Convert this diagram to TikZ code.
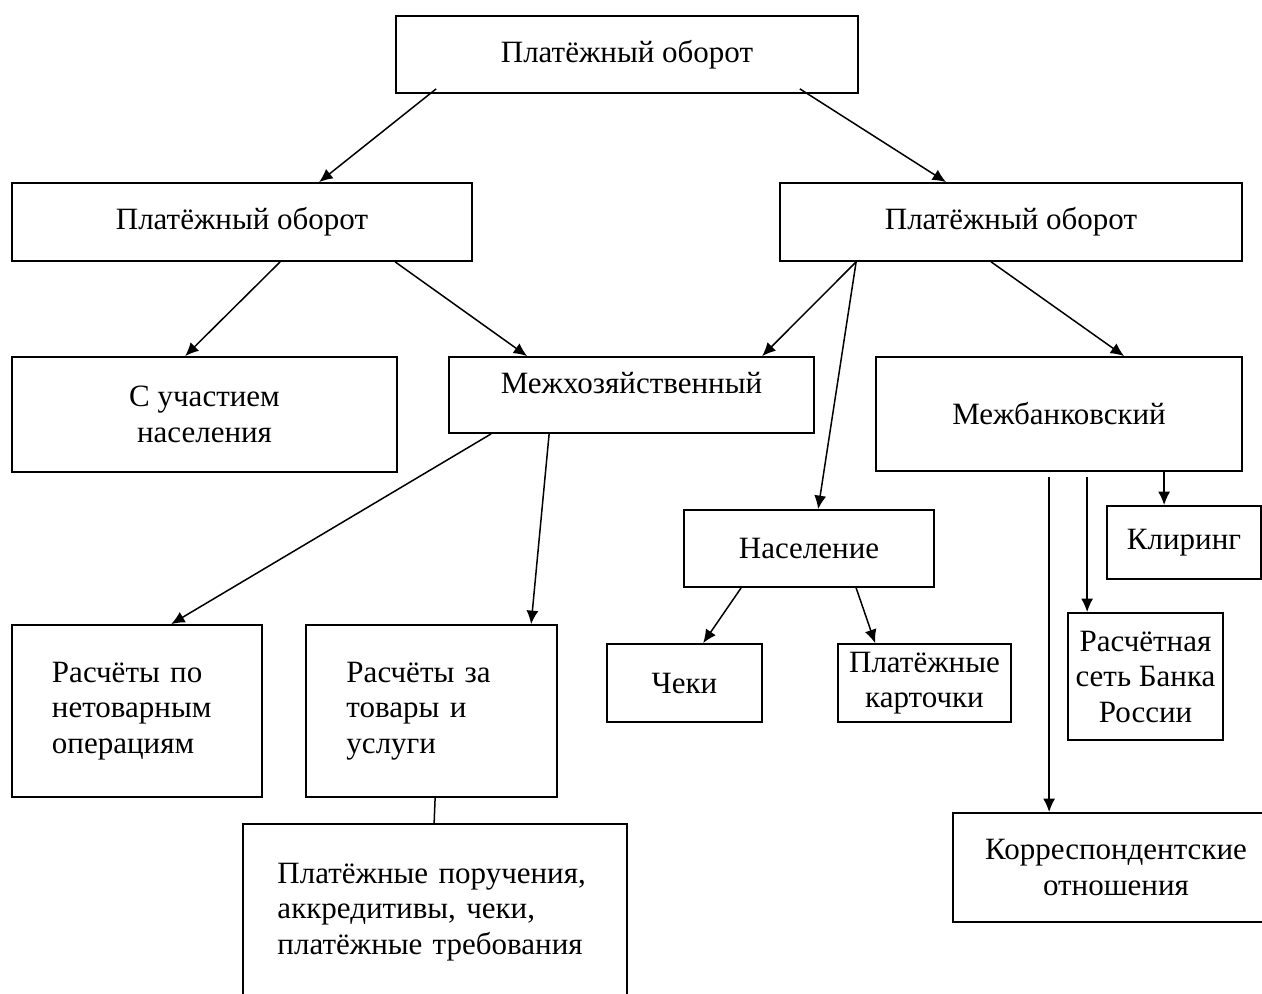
\documentclass[tikz,border=0pt]{standalone}
\usepackage{fontspec}
\setmainfont{Liberation Serif}
\usepackage{tikz}
\usetikzlibrary{calc,arrows.meta}

\begin{document}
\begin{tikzpicture}[x=0.4pt, y=-0.4pt,
  blk/.style 2 args={draw, line width=0.7pt, inner sep=0pt, align=center,
    minimum width=#1*0.4pt, minimum height=#2*0.4pt, font=\fontsize{12.4}{14.2}\selectfont},
  arr/.style={line width=0.6pt, -{Latex[length=5.4pt,width=4.8pt]}}]
  \useasboundingbox (0,0) rectangle (1262,994);
  \clip (0,0) rectangle (1262,994);
  \node[blk={462}{77}] (PO) at (627,54.5) {Платёжный оборот};
  \node[blk={460}{78}] (POL) at (242,222) {Платёжный оборот};
  \node[blk={462}{78}] (POR) at (1011,222) {Платёжный оборот};
  \node[blk={385}{115}] (SUN) at (204.5,414.5) {С участием\\населения};
  \node[blk={365}{76}, text height=8.6pt, text depth=10pt] (MH) at (631.5,395) {Межхозяйственный};
  \node[blk={366}{114}] (MB) at (1059,414) {Межбанковский};
  \node[blk={250}{77}] (NAS) at (809,548.5) {Население};
  \node[blk={154}{73}] (KL) at (1184,542.5) {Клиринг};
  \node[blk={155}{78}] (CH) at (684.5,683) {Чеки};
  \node[blk={173}{78}] (PK) at (924.5,683) {Платёжные\\карточки};
  \node[blk={155}{127}] (RS) at (1145.5,676.5) {Расчётная\\сеть Банка\\России};
  \node[blk={250}{172}, align=left, text width=68pt] (RNO) at (137,711) {Расчёты по\\нетоварным\\операциям};
  \node[blk={251}{172}, align=left, text width=68pt] (RTU) at (431.5,711) {Расчёты за\\товары и\\услуги};
  \node[blk={384}{176}, align=left, text width=126pt] (PP) at (435,912) {Платёжные поручения,\\аккредитивы, чеки,\\платёжные требования};
  \node[blk={326}{109}] (KO) at (1116,867.5) {Корреспондентские\\отношения};
  \path[draw,arr] ($(PO.south west)+(41,-5)$) -- ($(POL.north west)+(308,0)$);
  \path[draw,arr] ($(PO.south east)+(-59,-5)$) -- ($(POR.north west)+(167,0)$);
  \path[draw,arr] ($(POL.south west)+(269,0)$) -- ($(SUN.north west)+(174,0)$);
  \path[draw,arr] ($(POL.south west)+(384,0)$) -- ($(MH.north west)+(79,0)$);
  \path[draw,arr] ($(POR.south west)+(77,0)$) -- ($(MH.north west)+(314,0)$);
  \path[draw,arr] ($(POR.south west)+(77,0)$) -- ($(NAS.north west)+(135,0)$);
  \path[draw,arr] ($(POR.south west)+(212,0)$) -- ($(MB.north west)+(249,0)$);
  \path[draw,arr] ($(MH.south west)+(43,0)$) -- ($(RNO.north west)+(160,0)$);
  \path[draw,arr] ($(MH.south west)+(101,0)$) -- ($(RTU.north west)+(226,0)$);
  \path[draw,arr] ($(NAS.south west)+(58,0)$) -- ($(CH.north west)+(97,0)$);
  \path[draw,arr] ($(NAS.south west)+(173,0)$) -- ($(PK.north west)+(38,0)$);
  \path[draw,arr] ($(MB.south west)+(289,0)$) -- ($(KL.north west)+(58,0)$);
  \path[draw,arr] ($(MB.south west)+(212,5)$) -- ($(RS.north west)+(20,0)$);
  \path[draw,arr] ($(MB.south west)+(174,5)$) -- ($(KO.north west)+(97,0)$);
  \path[draw,line width=0.6pt] ($(RTU.south west)+(130,0)$) -- ($(PP.north west)+(192,0)$);
\end{tikzpicture}
\end{document}
